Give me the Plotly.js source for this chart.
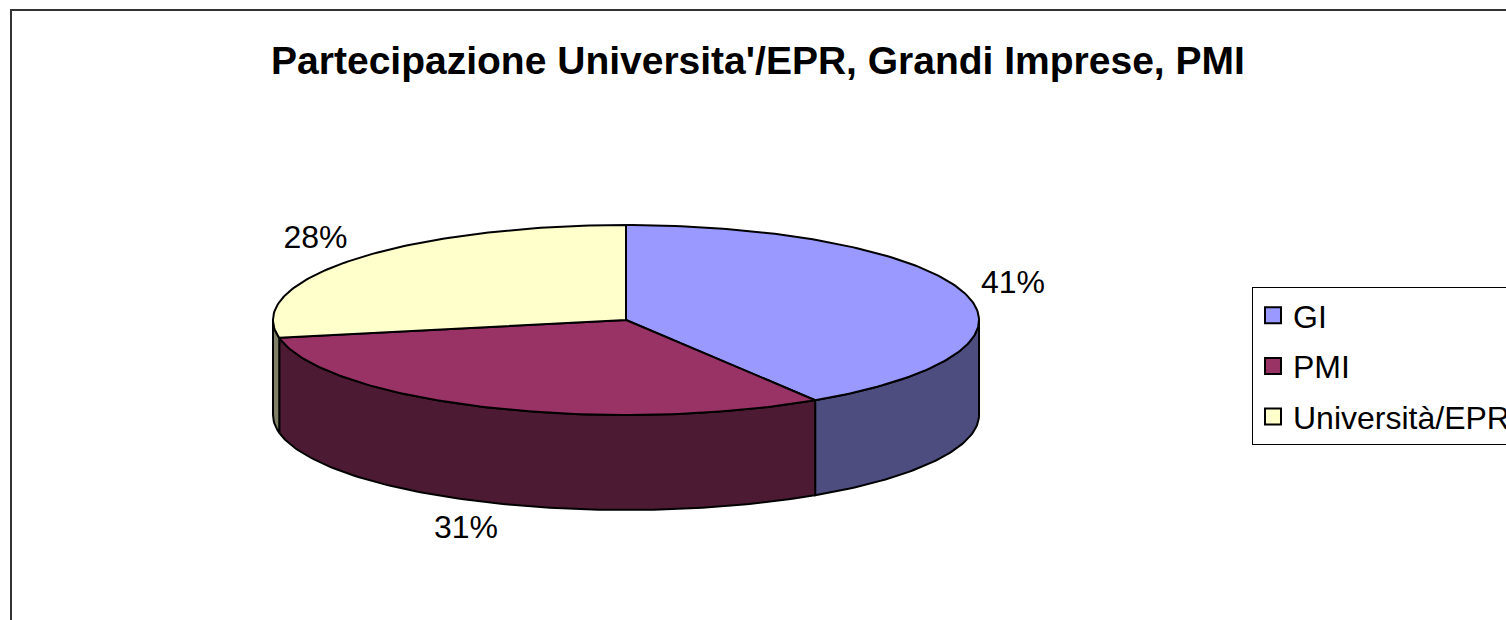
<!DOCTYPE html>
<html>
<head>
<meta charset="utf-8">
<script src="https://cdn.plot.ly/plotly-3.0.1.min.js"></script>
<style>html,body{margin:0;padding:0;background:#fff;}#chart{width:1506px;height:620px;}</style>
</head>
<body>
<div id="chart"></div>
<script>
// ---- data ----
const categories = ["GI", "PMI", "Università/EPR"];
const values = [41, 31, 28];
const topColors = ["#9999FF", "#993366", "#FFFFCC"];
const sideColors = ["#4D4D80", "#4D1A33", "#808066"];
const chartTitle = "Partecipazione Universita'/EPR, Grandi Imprese, PMI";

// ---- geometry (layout, pixels) ----
const W = 1506, H = 620;
const cx = 626, cy = 320, rx = 353, ry = 95, depth = 95;
const lblOx = 50, lblOy = 30;
const FONT = "Arial, Liberation Sans, sans-serif";

function pt(angDeg, dy) {
  const a = angDeg * Math.PI / 180;
  return [cx + rx * Math.sin(a), cy - ry * Math.cos(a) + (dy || 0)];
}

const total = values.reduce((s, v) => s + v, 0);
let start = 0;
const slices = values.map((v, i) => {
  const sweep = v / total * 360;
  const s = { a1: start, a2: start + sweep, i };
  start += sweep;
  return s;
});

const traces = [];
// side walls (front half only: 90..270 degrees)
slices.forEach(s => {
  const lo = Math.max(s.a1, 90), hi = Math.min(s.a2, 270);
  if (hi <= lo) return;
  const xs = [], ys = [];
  const n = Math.max(4, Math.ceil(hi - lo));
  for (let k = 0; k <= n; k++) { const p = pt(lo + (hi - lo) * k / n, 0); xs.push(p[0]); ys.push(p[1]); }
  for (let k = n; k >= 0; k--) { const p = pt(lo + (hi - lo) * k / n, depth); xs.push(p[0]); ys.push(p[1]); }
  xs.push(xs[0]); ys.push(ys[0]);
  traces.push({ x: xs, y: ys, type: "scatter", mode: "lines", fill: "toself",
    fillcolor: sideColors[s.i], line: { color: "#000", width: 2 }, hoverinfo: "skip", showlegend: false });
});
// top faces
slices.forEach(s => {
  const xs = [cx], ys = [cy];
  const n = Math.max(4, Math.ceil(s.a2 - s.a1));
  for (let k = 0; k <= n; k++) { const p = pt(s.a1 + (s.a2 - s.a1) * k / n, 0); xs.push(p[0]); ys.push(p[1]); }
  xs.push(cx); ys.push(cy);
  traces.push({ x: xs, y: ys, type: "scatter", mode: "lines", fill: "toself",
    fillcolor: topColors[s.i], line: { color: "#000", width: 2 }, hoverinfo: "skip", showlegend: false });
});
// percentage labels
const lx = [], ly = [], lt = [];
slices.forEach(s => {
  const m = (s.a1 + s.a2) / 2 * Math.PI / 180;
  const c = Math.cos(m);
  lx.push(cx + (rx + lblOx) * Math.sin(m));
  ly.push(cy - (ry + lblOy) * c + (c < 0 ? depth : 0));
  lt.push(Math.round(values[s.i] / total * 100) + "%");
});
traces.push({ x: lx, y: ly, text: lt, type: "scatter", mode: "text", textposition: "middle center",
  textfont: { family: FONT, size: 32, color: "#000" }, hoverinfo: "skip", showlegend: false });
// legend entries
categories.forEach((c, i) => {
  traces.push({ x: [null], y: [null], type: "scatter", mode: "markers", name: c, legendgroup: "g" + i,
    marker: { symbol: "square", size: 16, color: topColors[i], line: { color: "#000", width: 2 } } });
});

const layout = {
  width: W, height: H,
  margin: { l: 0, r: 0, t: 0, b: 0, autoexpand: false },
  paper_bgcolor: "#fff", plot_bgcolor: "#fff",
  xaxis: { range: [0, W], visible: false, fixedrange: true },
  yaxis: { range: [H, 0], visible: false, fixedrange: true },
  title: { text: "<b>" + chartTitle + "</b>", x: 758 / W, xanchor: "center", y: 1 - 60 / H, yanchor: "middle",
    font: { family: FONT, size: 39, color: "#000" } },
  showlegend: true,
  legend: { x: 1252 / W, xanchor: "left", y: 1 - 287 / H, yanchor: "top",
    bordercolor: "#000", borderwidth: 1, bgcolor: "#fff", tracegroupgap: 6, itemsizing: "trace",
    font: { family: FONT, size: 32, color: "#000" } },
  shapes: [
    { type: "rect", xref: "paper", yref: "paper", x0: 11 / W, x1: 1.01, y0: -0.01, y1: 1 - 10 / H,
      line: { color: "#333", width: 2 }, fillcolor: "rgba(0,0,0,0)", layer: "below" }
  ]
};
Plotly.newPlot("chart", traces, layout, { displayModeBar: false, staticPlot: true });
</script>
</body>
</html>
